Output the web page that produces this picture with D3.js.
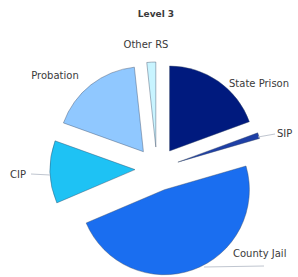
<!DOCTYPE html>
<html>
<head>
  <script src="https://d3js.org/d3.v7.min.js"></script>
  <style>
    body { margin: 0; background: #fff; }
    text { font-family: "DejaVu Sans", sans-serif; fill: #3a3a3a; }
  </style>
</head>
<body>
<script>
const categories = ['State Prison', 'SIP', 'County Jail', 'CIP', 'Probation', 'Other RS'];
const shares = [19.4, 1.1, 48.1, 11.9, 17.8, 1.7];
const colors = ['#001a7e', '#1e3fa6', '#1a6ef0', '#1ec2f4', '#90c8ff', '#c8f4ff'];
const title = 'Level 3';

const width = 298, height = 277;
const cx = 157, cy = 169, radius = 85, explode = 22;

const svg = d3.select('body').append('svg')
  .attr('width', width)
  .attr('height', height);

const pie = d3.pie().sort(null).value(d => d)(shares);
const arc = d3.arc().innerRadius(0).outerRadius(radius);

const g = svg.append('g').attr('transform', `translate(${cx},${cy})`);

// exploded slices
g.selectAll('path')
  .data(pie)
  .enter().append('path')
    .attr('d', arc)
    .attr('transform', d => {
      const a = (d.startAngle + d.endAngle) / 2;
      return `translate(${explode * Math.sin(a)},${-explode * Math.cos(a)})`;
    })
    .attr('fill', (d, i) => colors[i])
    .attr('stroke', '#3a4a66')
    .attr('stroke-opacity', 0.6)
    .attr('stroke-width', 0.7);

svg.append('text')
  .attr('x', 156).attr('y', 17)
  .attr('text-anchor', 'middle')
  .style('font-weight', 'bold')
  .style('font-size', '9px')
  .text(title);

// label placement, by slice
const labelPos = [
  { x: 229, y: 87, anchor: 'start' },
  { x: 277, y: 137, anchor: 'start' },
  { x: 233, y: 257, anchor: 'start' },
  { x: 10, y: 178, anchor: 'start' },
  { x: 55, y: 79, anchor: 'middle' },
  { x: 146, y: 48, anchor: 'middle' }
];

svg.selectAll('.lbl')
  .data(categories)
  .enter().append('text')
    .attr('class', 'lbl')
    .attr('x', (d, i) => labelPos[i].x)
    .attr('y', (d, i) => labelPos[i].y)
    .attr('text-anchor', (d, i) => labelPos[i].anchor)
    .style('font-size', '10px')
    .text(d => d);

// leader lines
const leaders = [
  [[258, 137], [275, 134]],
  [[31, 174], [50, 175]],
  [[204, 267], [264, 266]]
];
svg.selectAll('.lead')
  .data(leaders)
  .enter().append('path')
    .attr('class', 'lead')
    .attr('d', d3.line())
    .attr('fill', 'none')
    .attr('stroke', '#c0c6d0')
    .attr('stroke-width', 1);
</script>
</body>
</html>
